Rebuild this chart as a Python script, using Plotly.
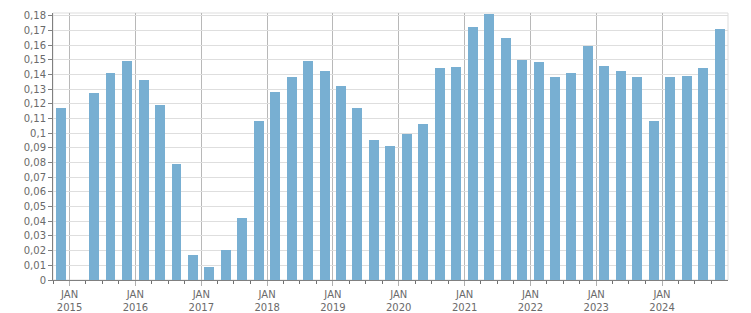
import pandas as pd
import plotly.graph_objects as go

quarters = ["2014Q4",
            "2015Q1", "2015Q2", "2015Q3", "2015Q4",
            "2016Q1", "2016Q2", "2016Q3", "2016Q4",
            "2017Q1", "2017Q2", "2017Q3", "2017Q4",
            "2018Q1", "2018Q2", "2018Q3", "2018Q4",
            "2019Q1", "2019Q2", "2019Q3", "2019Q4",
            "2020Q1", "2020Q2", "2020Q3", "2020Q4",
            "2021Q1", "2021Q2", "2021Q3", "2021Q4",
            "2022Q1", "2022Q2", "2022Q3", "2022Q4",
            "2023Q1", "2023Q2", "2023Q3", "2023Q4",
            "2024Q1", "2024Q2", "2024Q3", "2024Q4"]
values = [0.117,
          None, 0.127, 0.141, 0.149,
          0.136, 0.119, 0.079, 0.017,
          0.009, 0.0205, 0.042, 0.108,
          0.128, 0.138, 0.149, 0.1425,
          0.132, 0.117, 0.0955, 0.0915,
          0.0995, 0.1065, 0.1445, 0.145,
          0.172, 0.181, 0.165, 0.150,
          0.1485, 0.138, 0.141, 0.159,
          0.146, 0.142, 0.1385, 0.1085,
          0.138, 0.139, 0.1445, 0.171]

year_ticks = ["2015-01-01", "2016-01-01", "2017-01-01", "2018-01-01", "2019-01-01",
              "2020-01-01", "2021-01-01", "2022-01-01", "2023-01-01", "2024-01-01"]
year_labels = ["JAN<br>2015", "JAN<br>2016", "JAN<br>2017", "JAN<br>2018", "JAN<br>2019",
               "JAN<br>2020", "JAN<br>2021", "JAN<br>2022", "JAN<br>2023", "JAN<br>2024"]

y_ticks = [0, 0.01, 0.02, 0.03, 0.04, 0.05, 0.06, 0.07, 0.08, 0.09,
           0.1, 0.11, 0.12, 0.13, 0.14, 0.15, 0.16, 0.17, 0.18]
y_labels = ["0", "0,01", "0,02", "0,03", "0,04", "0,05", "0,06", "0,07", "0,08", "0,09",
            "0,1", "0,11", "0,12", "0,13", "0,14", "0,15", "0,16", "0,17", "0,18"]

periods = [pd.Period(q, freq="Q") for q in quarters]
x_mid = [p.start_time + (p.end_time - p.start_time) / 2 for p in periods]
quarter_starts = [p.start_time for p in periods]

DAY_MS = 86400000

fig = go.Figure()
fig.add_trace(go.Bar(
    x=x_mid, y=values,
    width=[55 * DAY_MS] * len(x_mid),
    marker=dict(color="#78afd2", line=dict(width=0)),
    hoverinfo="x+y",
))

font = dict(family="DejaVu Sans", size=10, color="#6a6a6a")

fig.update_layout(
    width=751, height=313,
    margin=dict(l=53, r=23, t=13, b=33),
    paper_bgcolor="white", plot_bgcolor="white",
    showlegend=False,
    bargap=0,
    font=font,
    shapes=[dict(type="rect", xref="paper", yref="paper", x0=0, y0=0, x1=1, y1=1,
                 line=dict(color="#dddddd", width=1), layer="below")],
    xaxis=dict(
        type="date",
        range=["2014-10-01", "2025-01-01"],
        tickmode="array", tickvals=year_ticks, ticktext=year_labels,
        showgrid=True, gridcolor="#b8b8b8", gridwidth=1,
        ticks="outside", ticklen=5, tickcolor="#b0b0b0",
        showline=True, linecolor="#808080", linewidth=1,
        tickfont=font,
        minor=dict(tickmode="array", tickvals=quarter_starts,
                   ticks="outside", ticklen=3, tickcolor="#707070", showgrid=False),
        zeroline=False,
        automargin=False,
    ),
    yaxis=dict(
        range=[0, 0.1818],
        tickmode="array", tickvals=y_ticks, ticktext=y_labels,
        showgrid=True, gridcolor="#dedede", gridwidth=1,
        ticks="outside", ticklen=4, tickcolor="#808080",
        showline=True, linecolor="#808080", linewidth=1,
        tickfont=font,
        zeroline=False,
        automargin=False,
    ),
)

fig.write_html("out.html")
